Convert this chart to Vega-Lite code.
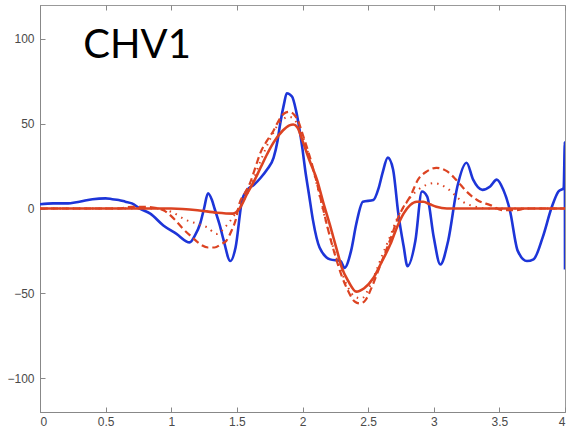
{
  "$schema": "https://vega.github.io/schema/vega-lite/v6.json",
  "width": 525,
  "height": 407,
  "autosize": {"type": "none"},
  "padding": {"left": 40, "top": 5, "right": 3, "bottom": 24},
  "background": "white",
  "config": {
    "view": {"stroke": "#999999", "strokeWidth": 1},
    "axis": {"labelFont": "Liberation Sans", "labelFontSize": 12, "labelColor": "#4a4a4a", "domainColor": "#888888", "tickColor": "#888888", "grid": false, "title": null}
  },
  "datasets": {
    "blue": [
      {"x": 0, "y": 2.5}, {"x": 0.1, "y": 3}, {"x": 0.2, "y": 3}, {"x": 0.3, "y": 4}, {"x": 0.4, "y": 5.5}, {"x": 0.5, "y": 6}, {"x": 0.55, "y": 5.5}, {"x": 0.6, "y": 5}, {"x": 0.65, "y": 4}, {"x": 0.7, "y": 3}, {"x": 0.76, "y": 0}, {"x": 0.84, "y": -3}, {"x": 0.94, "y": -10}, {"x": 1.04, "y": -15}, {"x": 1.14, "y": -20}, {"x": 1.18, "y": -16}, {"x": 1.22, "y": -9}, {"x": 1.25, "y": 0}, {"x": 1.28, "y": 9}, {"x": 1.31, "y": 5}, {"x": 1.33, "y": 0}, {"x": 1.37, "y": -10}, {"x": 1.4, "y": -19}, {"x": 1.45, "y": -31}, {"x": 1.49, "y": -23}, {"x": 1.54, "y": 5}, {"x": 1.58, "y": 11}, {"x": 1.63, "y": 14}, {"x": 1.68, "y": 18}, {"x": 1.73, "y": 23}, {"x": 1.78, "y": 30}, {"x": 1.81, "y": 40}, {"x": 1.83, "y": 50}, {"x": 1.86, "y": 62}, {"x": 1.88, "y": 68}, {"x": 1.92, "y": 66}, {"x": 1.95, "y": 58}, {"x": 1.97, "y": 50}, {"x": 2.0, "y": 35}, {"x": 2.02, "y": 23}, {"x": 2.05, "y": 8}, {"x": 2.08, "y": -7}, {"x": 2.13, "y": -23}, {"x": 2.21, "y": -30}, {"x": 2.29, "y": -31}, {"x": 2.32, "y": -35}, {"x": 2.37, "y": -25}, {"x": 2.41, "y": -9}, {"x": 2.46, "y": 4}, {"x": 2.54, "y": 5}, {"x": 2.58, "y": 12}, {"x": 2.61, "y": 21}, {"x": 2.65, "y": 30}, {"x": 2.69, "y": 23}, {"x": 2.73, "y": -3}, {"x": 2.77, "y": -22}, {"x": 2.8, "y": -34}, {"x": 2.86, "y": -19}, {"x": 2.91, "y": 10}, {"x": 2.95, "y": 7}, {"x": 3.0, "y": -17}, {"x": 3.05, "y": -33}, {"x": 3.11, "y": -19}, {"x": 3.18, "y": 13}, {"x": 3.25, "y": 27}, {"x": 3.3, "y": 17}, {"x": 3.37, "y": 11}, {"x": 3.43, "y": 13}, {"x": 3.48, "y": 17}, {"x": 3.53, "y": 11}, {"x": 3.58, "y": -1}, {"x": 3.64, "y": -25}, {"x": 3.71, "y": -31}, {"x": 3.76, "y": -30}, {"x": 3.83, "y": -17}, {"x": 3.9, "y": 1}, {"x": 3.95, "y": 10}, {"x": 3.99, "y": 12}, {"x": 3.999, "y": 39}, {"x": 4.0, "y": -36}
    ],
    "solid": [
      {"x": 0, "y": 0}, {"x": 1.0, "y": 0}, {"x": 1.2, "y": -1}, {"x": 1.35, "y": -2.5}, {"x": 1.47, "y": -3}, {"x": 1.52, "y": 0}, {"x": 1.58, "y": 9}, {"x": 1.63, "y": 16}, {"x": 1.68, "y": 24}, {"x": 1.73, "y": 32}, {"x": 1.78, "y": 39}, {"x": 1.85, "y": 46}, {"x": 1.9, "y": 49}, {"x": 1.93, "y": 49.5}, {"x": 1.96, "y": 48}, {"x": 2.0, "y": 40}, {"x": 2.05, "y": 29}, {"x": 2.11, "y": 17}, {"x": 2.16, "y": 3}, {"x": 2.21, "y": -10}, {"x": 2.26, "y": -24}, {"x": 2.3, "y": -35}, {"x": 2.35, "y": -43}, {"x": 2.41, "y": -49}, {"x": 2.47, "y": -47}, {"x": 2.54, "y": -41}, {"x": 2.6, "y": -32}, {"x": 2.67, "y": -21}, {"x": 2.72, "y": -11}, {"x": 2.77, "y": -3}, {"x": 2.82, "y": 2}, {"x": 2.87, "y": 4}, {"x": 2.92, "y": 4}, {"x": 2.97, "y": 2.5}, {"x": 3.02, "y": 1}, {"x": 3.1, "y": 0}, {"x": 4.0, "y": 0}
    ],
    "dashed": [
      {"x": 0, "y": 0}, {"x": 0.6, "y": 0}, {"x": 0.7, "y": 1}, {"x": 0.8, "y": 1}, {"x": 0.9, "y": 0}, {"x": 0.94, "y": -1}, {"x": 1.02, "y": -6}, {"x": 1.09, "y": -12}, {"x": 1.16, "y": -17}, {"x": 1.22, "y": -21}, {"x": 1.28, "y": -23}, {"x": 1.33, "y": -23}, {"x": 1.38, "y": -21}, {"x": 1.42, "y": -19}, {"x": 1.46, "y": -13}, {"x": 1.49, "y": -7}, {"x": 1.52, "y": 3}, {"x": 1.56, "y": 9}, {"x": 1.6, "y": 15}, {"x": 1.64, "y": 24}, {"x": 1.68, "y": 33}, {"x": 1.73, "y": 40}, {"x": 1.78, "y": 46}, {"x": 1.82, "y": 52}, {"x": 1.86, "y": 56}, {"x": 1.9, "y": 57}, {"x": 1.94, "y": 55}, {"x": 1.97, "y": 51}, {"x": 2.0, "y": 44}, {"x": 2.05, "y": 32}, {"x": 2.1, "y": 18}, {"x": 2.15, "y": 2}, {"x": 2.2, "y": -14}, {"x": 2.25, "y": -28}, {"x": 2.3, "y": -40}, {"x": 2.35, "y": -49}, {"x": 2.4, "y": -55}, {"x": 2.44, "y": -56}, {"x": 2.48, "y": -54}, {"x": 2.53, "y": -46}, {"x": 2.58, "y": -36}, {"x": 2.63, "y": -26}, {"x": 2.67, "y": -18}, {"x": 2.72, "y": -7}, {"x": 2.77, "y": 1}, {"x": 2.82, "y": 7}, {"x": 2.88, "y": 17}, {"x": 2.95, "y": 22}, {"x": 3.02, "y": 24}, {"x": 3.1, "y": 22}, {"x": 3.17, "y": 17}, {"x": 3.25, "y": 10}, {"x": 3.33, "y": 5}, {"x": 3.43, "y": 2}, {"x": 3.53, "y": -1}, {"x": 3.63, "y": -1}, {"x": 3.7, "y": 0}, {"x": 4.0, "y": 0}
    ],
    "dotted": [
      {"x": 0, "y": 0}, {"x": 0.9, "y": 0}, {"x": 1.0, "y": -2}, {"x": 1.12, "y": -7}, {"x": 1.2, "y": -9}, {"x": 1.27, "y": -11}, {"x": 1.35, "y": -15}, {"x": 1.41, "y": -11}, {"x": 1.48, "y": -4}, {"x": 1.53, "y": 2}, {"x": 1.6, "y": 12}, {"x": 1.68, "y": 28}, {"x": 1.76, "y": 42}, {"x": 1.84, "y": 52}, {"x": 1.9, "y": 54}, {"x": 1.96, "y": 50}, {"x": 2.0, "y": 43}, {"x": 2.05, "y": 31}, {"x": 2.1, "y": 17}, {"x": 2.15, "y": 1}, {"x": 2.2, "y": -14}, {"x": 2.25, "y": -27}, {"x": 2.3, "y": -38}, {"x": 2.35, "y": -47}, {"x": 2.4, "y": -52}, {"x": 2.45, "y": -53}, {"x": 2.5, "y": -48}, {"x": 2.55, "y": -39}, {"x": 2.6, "y": -29}, {"x": 2.67, "y": -16}, {"x": 2.72, "y": -6}, {"x": 2.78, "y": 2}, {"x": 2.85, "y": 9}, {"x": 2.92, "y": 13}, {"x": 3.0, "y": 15}, {"x": 3.1, "y": 12}, {"x": 3.22, "y": 4}, {"x": 3.32, "y": 1}, {"x": 3.4, "y": 0}, {"x": 4.0, "y": 0}
    ],
    "label": [{"x": 0.33, "y": 89, "t": "CHV1"}]
  },
  "layer": [
    {
      "encoding": {
        "x": {"field": "x", "type": "quantitative", "scale": {"domain": [0, 4], "nice": false, "zero": false},
          "axis": {"orient": "bottom", "values": [0, 0.5, 1, 1.5, 2, 2.5, 3, 3.5, 4], "format": "~g", "tickSize": -5, "labelPadding": 9}},
        "y": {"field": "y", "type": "quantitative", "scale": {"domain": [-120, 120], "nice": false},
          "axis": {"values": [-100, -50, 0, 50, 100], "tickSize": -5, "labelPadding": 11}}
      },
      "layer": [
        {"data": {"name": "blue"}, "mark": {"type": "line", "color": "#1d35d8", "strokeWidth": 2.6, "clip": true, "interpolate": "monotone"}, "encoding": {"order": {"field": "x"}}},
        {"data": {"name": "dashed"}, "mark": {"type": "line", "color": "#dc4322", "strokeWidth": 2.2, "strokeDash": [7, 4], "clip": true, "interpolate": "monotone"}, "encoding": {"order": {"field": "x"}}},
        {"data": {"name": "dotted"}, "mark": {"type": "line", "color": "#dc4322", "strokeWidth": 2, "strokeDash": [1.5, 5], "clip": true, "interpolate": "monotone"}, "encoding": {"order": {"field": "x"}}},
        {"data": {"name": "solid"}, "mark": {"type": "line", "color": "#dc4322", "strokeWidth": 2.6, "clip": true, "interpolate": "monotone"}, "encoding": {"order": {"field": "x"}}},
        {"data": {"name": "label"}, "mark": {"type": "text", "font": "Lato", "fontSize": 40, "color": "#000000", "align": "left", "baseline": "alphabetic"},
          "encoding": {"text": {"field": "t"}}}
      ]
    },
    {
      "data": {"values": [{"v": 0}]},
      "mark": {"type": "rule", "opacity": 0},
      "encoding": {
        "x": {"datum": 0, "type": "quantitative", "axis": {"orient": "top", "values": [0, 0.5, 1, 1.5, 2, 2.5, 3, 3.5, 4], "labels": false, "tickSize": -5, "domain": false}}
      }
    }
  ],
  "resolve": {"axis": {"x": "independent"}}
}
